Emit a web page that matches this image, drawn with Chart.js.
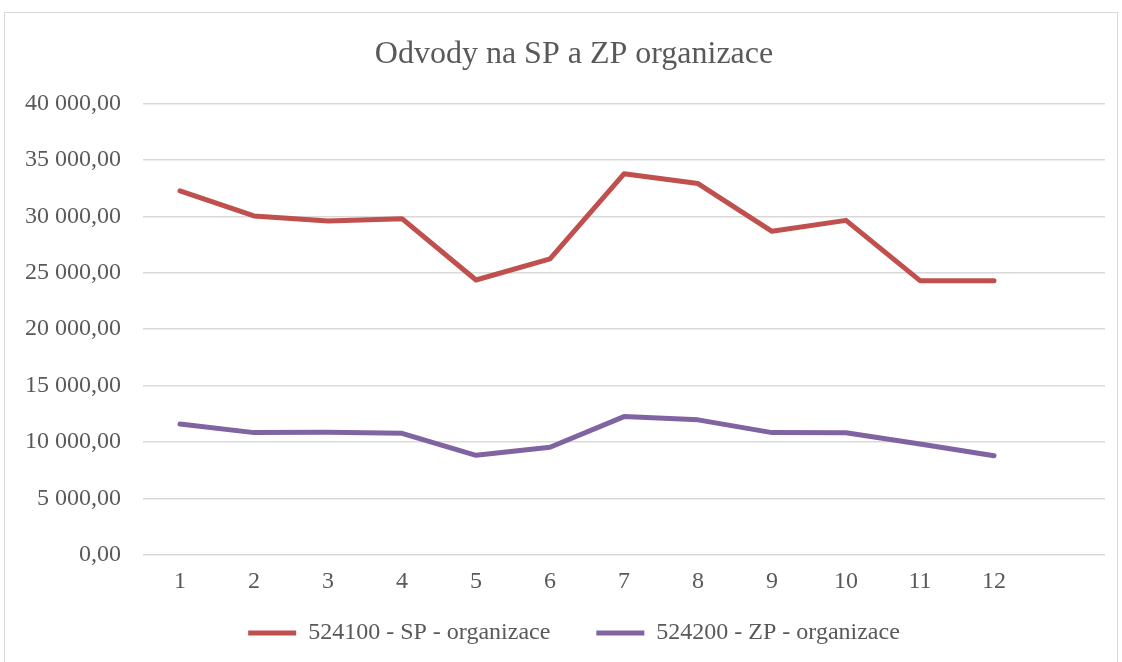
<!DOCTYPE html>
<html>
<head>
<meta charset="utf-8">
<script src="https://cdn.jsdelivr.net/npm/chart.js@4.4.0/dist/chart.umd.min.js"></script>
<style>
  html, body { margin: 0; padding: 0; background: #fff; }
  #wrap { position: relative; width: 1122px; height: 662px; overflow: hidden; }
  #frame { position: absolute; left: 4px; top: 12px; width: 1112px; height: 700px; border: 1px solid #d9d9d9; }
  #myChart { position: absolute; left: 0; top: 0; }
</style>
</head>
<body>
<div id="wrap">
  <div id="frame"></div>
  <canvas id="myChart" width="1170" height="662"></canvas>
</div>
<script>
// mesice (13. kategorie je v originale prazdna)
const months = ['1', '2', '3', '4', '5', '6', '7', '8', '9', '10', '11', '12', ''];
const spValues = [32250, 30030, 29580, 29790, 24360, 26230, 33760, 32900, 28670, 29640, 24300, 24300, null];
const zpValues = [11610, 10840, 10870, 10780, 8830, 9540, 12260, 11970, 10840, 10820, 9830, 8790, null];
const yTicks = [0, 5000, 10000, 15000, 20000, 25000, 30000, 35000, 40000];

const textColor = '#595959';
const fontFamily = "'Liberation Serif', 'Times New Roman', serif";

// 40000 -> "40 000,00"
function formatCz(v) {
    const parts = v.toFixed(2).split('.');
    const whole = parts[0].replace(/\B(?=(\d{3})+(?!\d))/g, ' ');
    return whole + ',' + parts[1];
}

const ctx = document.getElementById('myChart').getContext('2d');
const myChart = new Chart(ctx, {
    type: 'line',
    data: {
        labels: months,
        datasets: [{
            label: '524100 - SP - organizace',
            data: spValues,
            borderColor: '#C0504D',
            backgroundColor: '#C0504D',
            borderWidth: 5,
            pointRadius: 0,
            borderCapStyle: 'round',
            borderJoinStyle: 'round',
            tension: 0
        }, {
            label: '524200 - ZP - organizace',
            data: zpValues,
            borderColor: '#8064A2',
            backgroundColor: '#8064A2',
            borderWidth: 5,
            pointRadius: 0,
            borderCapStyle: 'round',
            borderJoinStyle: 'round',
            tension: 0
        }]
    },
    options: {
        responsive: false,
        animation: false,
        layout: {
            padding: { left: 0, right: 22, top: 0, bottom: 7 }
        },
        plugins: {
            title: {
                display: true,
                text: 'Odvody na SP a ZP organizace',
                color: textColor,
                font: { family: fontFamily, size: 32, weight: 'normal' },
                padding: { top: 35, bottom: 30 }
            },
            legend: {
                position: 'bottom',
                labels: {
                    color: textColor,
                    font: { family: fontFamily, size: 24 },
                    boxWidth: 48,
                    boxHeight: 5,
                    padding: 46,
                    generateLabels: function (chart) {
                        return chart.data.datasets.map(function (ds, i) {
                            return {
                                text: ds.label,
                                fillStyle: ds.borderColor,
                                strokeStyle: ds.borderColor,
                                lineWidth: 0,
                                fontColor: textColor,
                                datasetIndex: i
                            };
                        });
                    }
                }
            },
            tooltip: { enabled: false }
        },
        scales: {
            x: {
                offset: true,
                grid: { display: false, drawTicks: false },
                border: { display: false },
                afterFit: function (scale) {
                    // popisky osy zasahuji do horniho odsazeni legendy
                    scale.height = 20;
                },
                ticks: {
                    color: textColor,
                    font: { family: fontFamily, size: 24 },
                    mirror: true,
                    padding: -41,
                    maxRotation: 0,
                    autoSkip: false
                }
            },
            y: {
                min: 0,
                max: 40000,
                afterBuildTicks: function (scale) {
                    scale.ticks = yTicks.map(function (v) { return { value: v }; });
                },
                afterFit: function (scale) {
                    scale.width = 143;
                },
                grid: { color: '#D9D9D9', lineWidth: 1.5, drawTicks: false },
                border: { display: false },
                ticks: {
                    color: textColor,
                    font: { family: fontFamily, size: 24 },
                    padding: 22,
                    callback: function (v) { return formatCz(v); }
                }
            },
            // prazdna osa vpravo, jen posouva nadpis a legendu na stred jako v Excelu
            yRight: {
                position: 'right',
                grid: { display: false, drawTicks: false },
                border: { display: false },
                ticks: { display: false },
                afterFit: function (scale) {
                    scale.width = 43;
                }
            }
        }
    }
});
</script>
</body>
</html>
